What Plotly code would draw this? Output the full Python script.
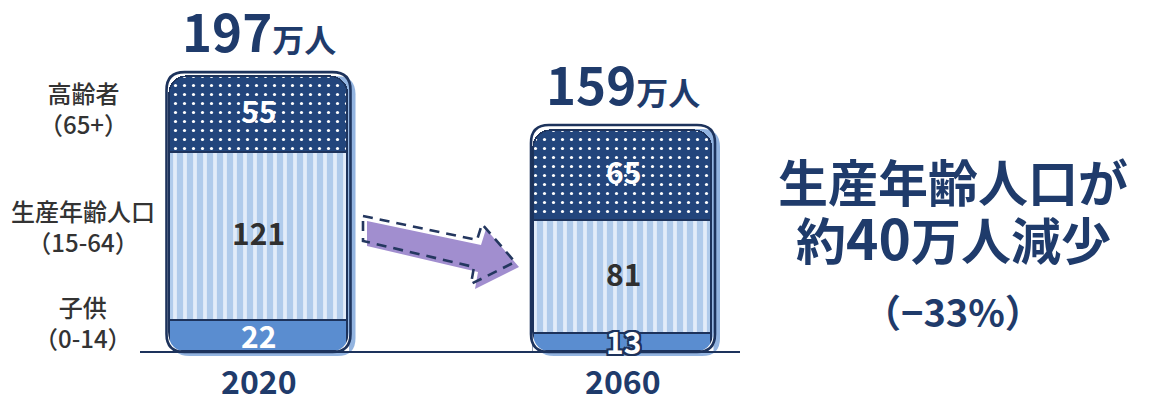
import plotly.graph_objects as go

# ---------------- data ----------------
years = ["2020", "2060"]
children = [22, 13]          # 子供 (0-14)
working = [121, 81]          # 生産年齢人口 (15-64)
elderly = [55, 65]           # 高齢者 (65+)
totals = [197, 159]          # 万人
seg_labels = ["子供<br>（0-14）", "生産年齢人口<br>（15-64）", "高齢者<br>（65+）"]
headline = ["生産年齢人口が", "約<span style='font-size:55px'>40</span>万人減少", "（−33%）"]

# ---------------- style ----------------
FONT = "Noto Sans CJK JP"
NAVY = "#1f3b6b"
OUTLINE = "#1d335c"
TOP_BG = "#22457c"
MID_BG = "#b0cbeb"
MID_FG = "#e2ecf9"
BOT_BG = "#5a8dd0"
W, H = 1149, 398
PXX = 364.5      # px per x unit
PXY = 1.39       # px per y unit
XR = [-258.5 / PXX, (W - 258.5) / PXX]
YR = [-(H - 352) / PXY, 352 / PXY]
BW = 178 / PXX   # bar width (data units)

xs = list(range(len(years)))

fig = go.Figure()
layers = [
    (children, BOT_BG, None, "子供"),
    (working, MID_BG, dict(shape="|", bgcolor=MID_BG, fgcolor=MID_FG, size=10, solidity=0.38, fillmode="replace"), "生産年齢人口"),
    (elderly, TOP_BG, dict(shape=".", bgcolor=TOP_BG, fgcolor="#ffffff", size=9, solidity=0.1, fillmode="replace"), "高齢者"),
]
for vals, col, pat, name in layers:
    marker = dict(color=col, line=dict(color=OUTLINE, width=1.6))
    if pat:
        marker["pattern"] = pat
    fig.add_trace(go.Bar(x=xs, y=vals, width=BW, marker=marker, name=name,
                         hoverinfo="skip", showlegend=False))


def rrect(x0, x1, y0, y1, rx, ry):
    p = f"M {x0+rx},{y0} L {x1-rx},{y0} Q {x1},{y0} {x1},{y0+ry} "
    p += f"L {x1},{y1-ry} Q {x1},{y1} {x1-rx},{y1} L {x0+rx},{y1} Q {x0},{y1} {x0},{y1-ry} "
    p += f"L {x0},{y0+ry} Q {x0},{y0} {x0+rx},{y0} Z"
    return p


shapes = []
R = 18
for i, t in enumerate(totals):
    sx = 5 / PXX
    sy = 4 / PXY
    x0, x1 = i - BW / 2 - 3 / PXX, i + BW / 2 + 3 / PXX
    # soft shadow
    shapes.append(dict(type="path", xref="x", yref="y", layer="below",
                       path=rrect(x0 + sx, x1 + sx, -sy, t + 2 / PXY, R / PXX, R / PXY),
                       fillcolor="#93b4e0", line=dict(width=0)))
    # bottom corner masks
    bx0, bx1 = i - BW / 2 - 1.5 / PXX, i + BW / 2 + 1.5 / PXX
    rx, ry = (R + 2) / PXX, (R + 2) / PXY
    shapes.append(dict(type="path", xref="x", yref="y", layer="above",
                       path=f"M {bx0},{0} L {bx0+rx},{0} Q {bx0+1/PXX},{1/PXY} {bx0},{ry} Z",
                       fillcolor="white", line=dict(width=0)))
    shapes.append(dict(type="path", xref="x", yref="y", layer="above",
                       path=f"M {bx1},{0} L {bx1-rx},{0} Q {bx1-1/PXX},{1/PXY} {bx1},{ry} Z",
                       fillcolor="white", line=dict(width=0)))
    # outline
    shapes.append(dict(type="path", xref="x", yref="y", layer="above",
                       path=rrect(x0, x1, 0, t + 6 / PXY, R / PXX, R / PXY),
                       fillcolor="rgba(0,0,0,0)", line=dict(color=OUTLINE, width=2.6)))

# baseline
shapes.append(dict(type="line", xref="x", yref="y", layer="above",
                   x0=(140 - 258.5) / PXX, x1=(740 - 258.5) / PXX, y0=0, y1=0,
                   line=dict(color=OUTLINE, width=2.2)))


# arrow (decoration, pixel -> paper)
def ppath(pts, dx=0, dy=0):
    s = ""
    for k, (px, py) in enumerate(pts):
        s += ("M " if k == 0 else "L ") + f"{(px+dx)/W},{1-(py+dy)/H} "
    return s + "Z"


arrow_pts = [(363, 216), (477, 240), (482, 224), (515, 262), (471, 284), (474, 267), (363, 241)]
shapes.append(dict(type="path", xref="paper", yref="paper", layer="above",
                   path=ppath(arrow_pts, 4, 5), fillcolor="#a18ecf", line=dict(width=0)))
shapes.append(dict(type="path", xref="paper", yref="paper", layer="above",
                   path=ppath(arrow_pts), fillcolor="rgba(0,0,0,0)",
                   line=dict(color="#24375f", width=2.6, dash="10px,7px")))

ann = []
# totals and years
for i, t in enumerate(totals):
    ann.append(dict(x=i, y=t, xref="x", yref="y", yanchor="bottom", yshift=10, borderpad=0,
                    text=f"<b>{t}<span style='font-size:32px'>万人</span></b>",
                    showarrow=False, font=dict(family=FONT, size=51, color=NAVY)))
    ann.append(dict(x=i, y=0, xref="x", yref="y", yanchor="top", yshift=-4, borderpad=0,
                    text=f"<b>{years[i]}</b>", showarrow=False,
                    font=dict(family=FONT, size=32, color=NAVY)))

# segment values
stroke = ", ".join(f"{a}px {b}px 0 {OUTLINE}" for a in (-2, 0, 2) for b in (-2, 0, 2) if (a, b) != (0, 0))
for i in xs:
    mids = [children[i] / 2, children[i] + working[i] / 2, children[i] + working[i] + elderly[i] / 2]
    vals = [children[i], working[i], elderly[i]]
    cols = ["#ffffff", "#2f2f2f", "#ffffff"]
    for k in range(3):
        f = dict(family=FONT, size=30, color=cols[k])
        if k == 0 and vals[k] < 18:
            f["shadow"] = stroke
        ann.append(dict(x=i, y=mids[k], xref="x", yref="y", text=f"<b>{vals[k]}</b>",
                        showarrow=False, font=f, yshift=(2 if k == 0 else 5)))

# left category labels, beside the 2020 bar
mids0 = [children[0] / 2, children[0] + working[0] / 2, children[0] + working[0] + elderly[0] / 2]
lshift = [15, 11, 7]
for k in range(3):
    ann.append(dict(x=(83 - 258.5) / PXX, y=mids0[k], xref="x", yref="y", yshift=lshift[k],
                    xanchor="center", text=seg_labels[k], showarrow=False, align="center",
                    borderpad=0, font=dict(family=FONT, size=24, color="#333333", weight=500)))

# headline
hy = [1 - 180 / H, 1 - 236 / H, 1 - 310 / H]
hs = [50, 50, 38]
for k in range(3):
    ann.append(dict(x=953 / W, y=hy[k], xref="paper", yref="paper", xanchor="center",
                    yanchor="middle", text=f"<b>{headline[k]}</b>", borderpad=0,
                    showarrow=False, font=dict(family=FONT, size=hs[k], color=NAVY)))

fig.update_layout(
    width=W, height=H, margin=dict(l=0, r=0, t=0, b=0),
    paper_bgcolor="white", plot_bgcolor="white",
    barmode="stack", barcornerradius=R, bargap=0,
    xaxis=dict(range=XR, visible=False, fixedrange=True),
    yaxis=dict(range=YR, visible=False, fixedrange=True),
    shapes=shapes, annotations=ann, showlegend=False,
)
fig.write_html("out.html", config={"displayModeBar": False},
               post_script="document.body.style.margin='0px';")
